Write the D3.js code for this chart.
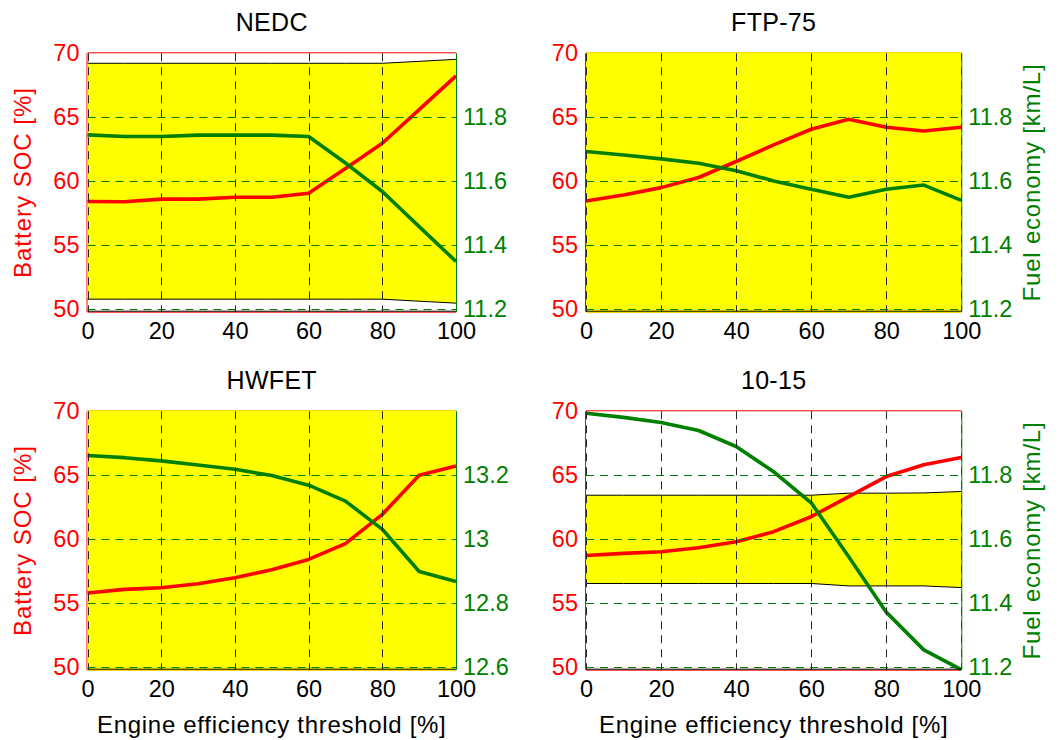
<!DOCTYPE html>
<html>
<head>
<meta charset="utf-8">
<script src="https://cdn.jsdelivr.net/npm/d3@7"></script>
<style>
  html, body { margin: 0; padding: 0; background: #fff; }
  svg { display: block; }
  text { font-family: "Liberation Sans", Arial, Helvetica, sans-serif; }
</style>
</head>
<body>
<svg id="chart" width="1060" height="740"></svg>
<script>
// Engine efficiency threshold sweep [%]
const threshold = [0, 10, 20, 30, 40, 50, 60, 70, 80, 90, 100];
const thresholdTicks = [0, 20, 40, 60, 80, 100];
const socTicks = [50, 55, 60, 65, 70];
const cycleNames = ["NEDC", "FTP-75", "HWFET", "10-15"];

// Final battery SOC [%]
const socNEDC  = [58.41, 58.40, 58.60, 58.60, 58.75, 58.75, 59.06, 61.00, 62.97, 65.60, 68.23];
const socFTP   = [58.46, 58.93, 59.50, 60.29, 61.54, 62.84, 64.06, 64.84, 64.22, 63.93, 64.22];
const socHWFET = [55.79, 56.08, 56.21, 56.52, 56.99, 57.61, 58.42, 59.65, 61.94, 65.00, 65.72];
const soc1015  = [58.73, 58.89, 59.02, 59.33, 59.80, 60.59, 61.76, 63.33, 64.90, 65.82, 66.39];

// Fuel economy [km/L]
const feNEDC  = [11.745, 11.740, 11.740, 11.744, 11.744, 11.744, 11.740, 11.657, 11.568, 11.458, 11.349];
const feFTP   = [11.693, 11.682, 11.670, 11.656, 11.633, 11.601, 11.575, 11.550, 11.575, 11.588, 11.540];
const feHWFET = [13.262, 13.255, 13.245, 13.232, 13.219, 13.199, 13.169, 13.119, 13.031, 12.899, 12.868];
const fe1015  = [11.994, 11.981, 11.965, 11.940, 11.890, 11.811, 11.714, 11.545, 11.372, 11.254, 11.192];

// SOC window (lower / upper bound) shaded in yellow
const bandLowNEDC  = [50.78, 50.78, 50.78, 50.78, 50.78, 50.78, 50.78, 50.78, 50.78, 50.62, 50.47];
const bandHighNEDC = [69.22, 69.22, 69.22, 69.22, 69.22, 69.22, 69.22, 69.22, 69.22, 69.37, 69.53];
const bandLowFTP   = [48, 48, 48, 48, 48, 48, 48, 48, 48, 48, 48];
const bandHighFTP  = [72, 72, 72, 72, 72, 72, 72, 72, 72, 72, 72];
const bandLowHWFET  = [48, 48, 48, 48, 48, 48, 48, 48, 48, 48, 48];
const bandHighHWFET = [72, 72, 72, 72, 72, 72, 72, 72, 72, 72, 72];
const bandLow1015  = [56.54, 56.54, 56.54, 56.54, 56.54, 56.54, 56.54, 56.35, 56.35, 56.35, 56.22];
const bandHigh1015 = [63.44, 63.44, 63.44, 63.44, 63.44, 63.44, 63.44, 63.60, 63.60, 63.62, 63.73];

// Right-axis tick labels
const feTicksNEDC  = [11.2, 11.4, 11.6, 11.8];
const feTicksFTP   = [11.2, 11.4, 11.6, 11.8];
const feTicksHWFET = [12.6, 12.8, 13.0, 13.2];
const feTicks1015  = [11.2, 11.4, 11.6, 11.8];

const RED = "#ff0000";
const GREEN = "#008000";
const YELLOW = "#ffff00";

const svg = d3.select("#chart");

const panels = [
  { name: cycleNames[0], soc: socNEDC,  fe: feNEDC,  lo: bandLowNEDC,  hi: bandHighNEDC,  feTicks: feTicksNEDC,
    left: 87.5, right: 456, top: 53.3, bottom: 311.7, col: 0, row: 0 },
  { name: cycleNames[1], soc: socFTP,   fe: feFTP,   lo: bandLowFTP,   hi: bandHighFTP,   feTicks: feTicksFTP,
    left: 586, right: 961.3, top: 53.3, bottom: 311.7, col: 1, row: 0 },
  { name: cycleNames[2], soc: socHWFET, fe: feHWFET, lo: bandLowHWFET, hi: bandHighHWFET, feTicks: feTicksHWFET,
    left: 87.5, right: 456, top: 411.3, bottom: 669.7, col: 0, row: 1 },
  { name: cycleNames[3], soc: soc1015,  fe: fe1015,  lo: bandLow1015,  hi: bandHigh1015,  feTicks: feTicks1015,
    left: 586, right: 961.3, top: 411.3, bottom: 669.7, col: 1, row: 1 }
];

panels.forEach((p, i) => {
  const g = svg.append("g");
  const x = d3.scaleLinear().domain([0, 100]).range([p.left, p.right]);
  const ySoc = d3.scaleLinear().domain([49.8, 70]).range([p.bottom, p.top]);
  const base = p.feTicks[0];
  const yFe = d3.scaleLinear().domain([base - 0.008, base + 0.8]).range([p.bottom, p.top]);

  const clipId = "clip" + i;
  svg.append("clipPath").attr("id", clipId)
    .append("rect")
    .attr("x", p.left - 1).attr("y", p.top - 1)
    .attr("width", p.right - p.left + 2).attr("height", p.bottom - p.top + 2);

  // plot background
  g.append("rect")
    .attr("x", p.left).attr("y", p.top)
    .attr("width", p.right - p.left).attr("height", p.bottom - p.top)
    .attr("fill", "#fff");

  // left-axis frame (red), drawn beneath the SOC window
  g.append("line").attr("x1", p.left).attr("x2", p.right)
    .attr("y1", p.top - 0.5).attr("y2", p.top - 0.5)
    .attr("stroke", RED).attr("stroke-width", 1);
  g.append("line").attr("x1", p.left).attr("x2", p.right)
    .attr("y1", p.bottom + 0.5).attr("y2", p.bottom + 0.5)
    .attr("stroke", RED).attr("stroke-width", 1);
  g.append("line").attr("x1", p.left - 0.5).attr("x2", p.left - 0.5)
    .attr("y1", p.top).attr("y2", p.bottom)
    .attr("stroke", RED).attr("stroke-width", 1);

  // SOC window
  const idx = d3.range(threshold.length);
  const band = d3.area()
    .x(k => x(threshold[k]))
    .y0(k => ySoc(p.lo[k]))
    .y1(k => ySoc(p.hi[k]));
  const cg = g.append("g").attr("clip-path", `url(#${clipId})`);
  cg.append("path").datum(idx).attr("d", band).attr("fill", YELLOW);
  [p.lo, p.hi].forEach(arr => {
    cg.append("path").datum(idx)
      .attr("d", d3.line().x(k => x(threshold[k])).y(k => ySoc(arr[k])))
      .attr("fill", "none").attr("stroke", "#000").attr("stroke-width", 1);
  });

  // SOC curve
  cg.append("path").datum(idx)
    .attr("d", d3.line().x(k => x(threshold[k])).y(k => ySoc(p.soc[k])))
    .attr("fill", "none").attr("stroke", RED).attr("stroke-width", 3.6)
    .attr("stroke-linejoin", "round");

  // grid: vertical (black) and right-axis horizontal (green)
  thresholdTicks.forEach(t => {
    g.append("line")
      .attr("x1", Math.round(x(t)) + 0.5).attr("x2", Math.round(x(t)) + 0.5)
      .attr("y1", p.top).attr("y2", p.bottom)
      .attr("stroke", "#262626").attr("stroke-width", 1)
      .attr("stroke-dasharray", "8,6");
  });
  p.feTicks.forEach(t => {
    g.append("line")
      .attr("x1", p.left).attr("x2", p.right)
      .attr("y1", Math.round(yFe(t)) + 0.5).attr("y2", Math.round(yFe(t)) + 0.5)
      .attr("stroke", GREEN).attr("stroke-width", 1)
      .attr("stroke-dasharray", "8,6");
  });

  // fuel economy curve
  cg.append("path").datum(idx)
    .attr("d", d3.line().x(k => x(threshold[k])).y(k => yFe(p.fe[k])))
    .attr("fill", "none").attr("stroke", GREEN).attr("stroke-width", 3.6)
    .attr("stroke-linejoin", "round");

  // bottom (black) and right (green) axis lines
  g.append("line").attr("x1", p.left).attr("x2", p.right)
    .attr("y1", p.bottom - 0.5).attr("y2", p.bottom - 0.5)
    .attr("stroke", "#000").attr("stroke-width", 1);
  g.append("line").attr("x1", p.right + 0.5).attr("x2", p.right + 0.5)
    .attr("y1", p.top).attr("y2", p.bottom)
    .attr("stroke", GREEN).attr("stroke-width", 1);

  // axes (labels only; the frame is drawn above)
  const axL = d3.axisLeft(ySoc).tickValues(socTicks).tickSize(0).tickPadding(8);
  const axR = d3.axisRight(yFe).tickValues(p.feTicks).tickSize(0).tickPadding(7)
    .tickFormat(d3.format("~g"));
  const axB = d3.axisBottom(x).tickValues(thresholdTicks).tickSize(0).tickPadding(11);

  const gl = g.append("g").attr("transform", `translate(${p.left},0)`).call(axL);
  gl.selectAll("text").attr("fill", RED).style("font-size", "23.5px");
  const gr = g.append("g").attr("transform", `translate(${p.right},0)`).call(axR);
  gr.selectAll("text").attr("fill", GREEN).style("font-size", "23.5px");
  const gb = g.append("g").attr("transform", `translate(0,${p.bottom})`).call(axB);
  gb.selectAll("text").attr("fill", "#000").style("font-size", "23.5px");
  [gl, gr, gb].forEach(a => {
    a.select(".domain").remove();
    a.attr("font-family", null).attr("font-size", null);
  });

  const cx = (p.left + p.right) / 2;
  const cy = (p.top + p.bottom) / 2;

  // panel title
  g.append("text").attr("x", cx).attr("y", p.top - 22)
    .attr("text-anchor", "middle").style("font-size", "25px")
    .style("letter-spacing", "0.3px")
    .attr("fill", "#000").text(p.name);

  if (p.col === 0) {
    g.append("text")
      .attr("transform", `translate(${p.left - 57},${cy}) rotate(-90)`)
      .attr("text-anchor", "middle").style("font-size", "24px")
      .style("letter-spacing", "1px")
      .attr("fill", RED).text("Battery SOC [%]");
  } else {
    g.append("text")
      .attr("transform", `translate(${p.right + 79},${cy}) rotate(-90)`)
      .attr("text-anchor", "middle").style("font-size", "24px")
      .style("letter-spacing", "0.8px")
      .attr("fill", GREEN).text("Fuel economy [km/L]");
  }
  if (p.row === 1) {
    g.append("text").attr("x", cx).attr("y", p.bottom + 63)
      .attr("text-anchor", "middle").style("font-size", "24px")
      .style("letter-spacing", "0.7px")
      .attr("fill", "#000").text("Engine efficiency threshold [%]");
  }
});
</script>
</body>
</html>
